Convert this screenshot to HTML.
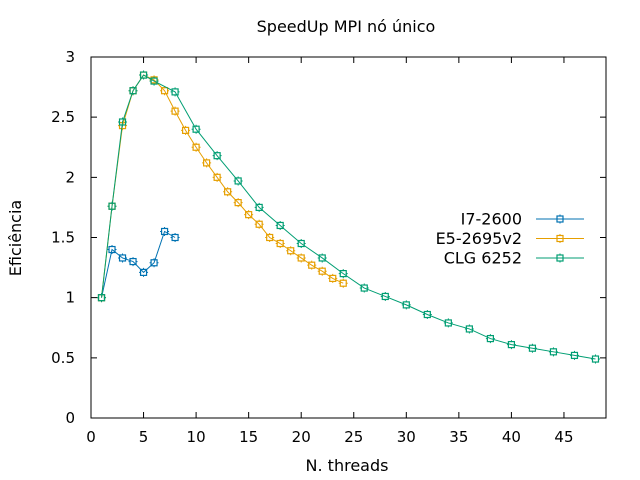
<!DOCTYPE html>
<html><head><meta charset="utf-8"><style>body{margin:0;background:#fff}svg{display:block;font-family:"DejaVu Sans","Liberation Sans",sans-serif}</style></head>
<body>
<svg id="c" width="640" height="480"></svg>
<script>
const i7X=[1,2,3,4,5,6,7,8];
const i7Y=[1.0,1.40,1.33,1.30,1.21,1.29,1.55,1.50];
const e5X=[1,2,3,4,5,6,7,8,9,10,11,12,13,14,15,16,17,18,19,20,21,22,23,24];
const e5Y=[1,1.76,2.43,2.72,2.85,2.81,2.72,2.55,2.39,2.25,2.12,2.00,1.88,1.79,1.69,1.61,1.50,1.45,1.39,1.33,1.27,1.22,1.16,1.12];
const clgX=[1,2,3,4,5,6,8,10,12,14,16,18,20,22,24,26,28,30,32,34,36,38,40,42,44,46,48];
const clgY=[1,1.76,2.46,2.72,2.85,2.80,2.71,2.40,2.18,1.97,1.75,1.60,1.45,1.33,1.20,1.08,1.01,0.94,0.86,0.79,0.74,0.66,0.61,0.58,0.55,0.52,0.49];
const xTicks=[0,5,10,15,20,25,30,35,40,45];
const yTicks=[0,0.5,1,1.5,2,2.5,3];
const yLabels=["0","0.5","1","1.5","2","2.5","3"];
const names=["I7-2600","E5-2695v2","CLG 6252"];
const L=91,R=606,T=57,B=418,XMAX=49,YMAX=3;
const sx=v=>L+v/XMAX*(R-L), sy=v=>B-v/YMAX*(B-T);
const svg=document.getElementById('c');const NS='http://www.w3.org/2000/svg';
function mk(t,a,p){const e=document.createElementNS(NS,t);for(const k in a)e.setAttribute(k,a[k]);(p||svg).appendChild(e);return e;}
const frame=mk('rect',{x:L,y:T,width:R-L,height:B-T,fill:'none',stroke:'#000','stroke-width':1});


xTicks.forEach(v=>{const x=sx(v);
 const tk=mk('path',{d:`M${x},${B}v-6M${x},${T}v6`,stroke:'#000'});
 
 
 const t=mk('text',{x:x,y:B+24,'text-anchor':'middle','font-size':15});t.textContent=v;
 
 });
yTicks.forEach((v,i)=>{const y=sy(v);
 const tk=mk('path',{d:`M${L},${y}h6M${R},${y}h-6`,stroke:'#000'});
 
 
 const t=mk('text',{x:L-16,y:y+5,'text-anchor':'end','font-size':15});t.textContent=yLabels[i];
 
 });
const title=mk('text',{x:346,y:32,'text-anchor':'middle','font-size':16});title.textContent='SpeedUp MPI nó único';


const xt=mk('text',{x:347,y:471,'text-anchor':'middle','font-size':16});xt.textContent='N. threads';


const yt=mk('text',{x:0,y:0,'text-anchor':'middle','font-size':16,transform:'translate(21,238) rotate(-90)'});yt.textContent='Eficiência';


const series=[[i7X,i7Y,'#0072b2'],[e5X,e5Y,'#e69f00'],[clgX,clgY,'#009e73']];
function marker(g,x,y,c){mk('rect',{x:x-3,y:y-3,width:6,height:6,fill:'none',stroke:c,'stroke-width':1.2},g);mk('path',{d:`M${x},${y-4.5}v2M${x},${y+2.5}v2M${x-4.5},${y}h2M${x+2.5},${y}h2`,stroke:c,'stroke-width':1},g);}
series.forEach((s,k)=>{const [xs,ys,c]=s;
 const g=mk('g',{});
 
 
 mk('polyline',{points:xs.map((x,i)=>sx(x)+','+sy(ys[i])).join(' '),fill:'none',stroke:c,'stroke-width':1},g);
 xs.forEach((x,i)=>marker(g,sx(x),sy(ys[i]),c));
 const ly=219+k*19.5;
 const lg=mk('g',{});
 
 
 const t=mk('text',{x:522,y:ly+5.5,'text-anchor':'end','font-size':16},lg);t.textContent=names[k];
 mk('line',{x1:536,x2:584,y1:ly,y2:ly,stroke:c},lg);marker(lg,560,ly,c);});
</script>
</body></html>
